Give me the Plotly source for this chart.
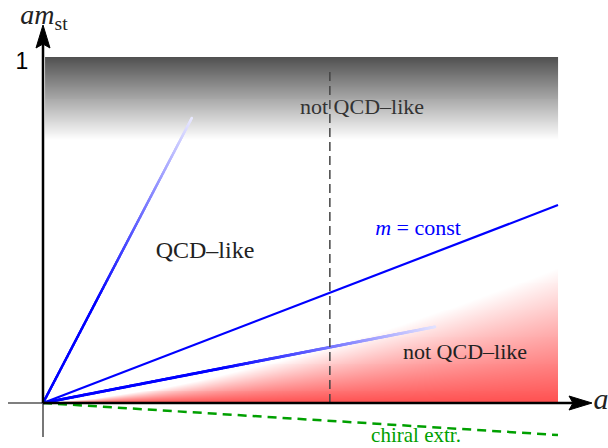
import numpy as np
import plotly.graph_objects as go

# ---------------- data (chart units: x = a, y = a*m_st) ----------------
MCONST_X = [0.0, 1.0]
MCONST_Y = [0.0, 0.572]
STEEP_X = [0.0, 0.289]
STEEP_Y = [0.0, 0.824]
LOW_X = [0.0, 0.761]
LOW_Y = [0.0, 0.220]
CHIRAL_X = [0.0, 1.0]
CHIRAL_Y = [0.0, -0.0925]
DASH_X = [0.557, 0.557]
DASH_Y = [0.0, 0.968]
RED_X = [0.0, 0.1, 0.2, 0.3, 0.4, 0.5, 0.6, 0.7, 0.8, 0.9, 1.0]
RED_TOP = [0.0, 0.012, 0.035, 0.064, 0.099, 0.138, 0.181, 0.228, 0.279, 0.333, 0.390]
GRAY_X = [0.004, 1.0]
GRAY_Y = [0.76, 1.0]

LABELS = {
    "top": "not QCD\u2013like",
    "mid": "QCD\u2013like",
    "mconst": "<i>m</i> = const",
    "bottom": "not QCD\u2013like",
    "chiral": "chiral extr.",
}

# ---------------- geometry helpers (pixel -> data) ----------------
W, H = 608, 448
OX, OY = 43, 403
SX, SY = 515, 346


def dx(px):
    return (px - OX) / SX


def dy(py):
    return (OY - py) / SY


SERIF = "Liberation Serif"

fig = go.Figure()

# gray gradient band: one heatmap column, dark at top -> white at bottom
NG = 84
g_edges = np.linspace(GRAY_Y[0], GRAY_Y[1], NG + 1)
g_z = [[(i + 0.5) / NG] for i in range(NG)]
fig.add_trace(go.Heatmap(x=GRAY_X, y=g_edges, z=g_z, zmin=0, zmax=1,
                         colorscale=[[0, "rgb(255,255,255)"], [1, "rgb(80,80,80)"]],
                         showscale=False, hoverinfo="skip"))

# red gradient wedge under the curve RED_TOP(x): red at axis -> white at curve
NXR, NYR = 515, 140
xr_edges = np.linspace(RED_X[0], RED_X[-1], NXR + 1)
yr_edges = np.linspace(0, max(RED_TOP), NYR + 1)
xc = (xr_edges[:-1] + xr_edges[1:]) / 2
yc = (yr_edges[:-1] + yr_edges[1:]) / 2
top = np.interp(xc, RED_X, RED_TOP)
XX, YY = np.meshgrid(xc, yc)
TT = np.broadcast_to(top, XX.shape)
frac = np.where(YY <= TT, YY / np.maximum(TT, 1e-9), np.nan)
red_scale = [[0.0, "rgb(255,80,80)"], [0.25, "rgb(255,124,124)"], [0.5, "rgb(255,169,169)"],
             [0.75, "rgb(255,213,213)"], [1.0, "rgb(255,255,255)"]]
fig.add_trace(go.Heatmap(x=xr_edges, y=yr_edges, z=frac.tolist(), zmin=0, zmax=1,
                         colorscale=red_scale, showscale=False, hoverinfo="skip"))


def fading_line(xa, ya, size, t_start, end_rgb, n=500):
    t = np.linspace(0, 1, n)
    s = np.clip((t - t_start) / (1 - t_start), 0, 1)
    cols = [f"rgb({round(end_rgb[0] * v)},{round(end_rgb[1] * v)},255)" for v in s]
    fig.add_trace(go.Scatter(x=xa[0] + (xa[1] - xa[0]) * t, y=ya[0] + (ya[1] - ya[0]) * t,
                             mode="markers",
                             marker=dict(color=cols, size=size, line=dict(width=0)),
                             hoverinfo="skip", showlegend=False))


fading_line(STEEP_X, STEEP_Y, 2.4, 0.35, (232, 232, 255))
fading_line(LOW_X, LOW_Y, 2.9, 0.45, (225, 225, 255))
fig.add_trace(go.Scatter(x=MCONST_X, y=MCONST_Y, mode="lines",
                         line=dict(color="rgb(0,0,255)", width=2.2),
                         hoverinfo="skip", showlegend=False))

# dashed vertical line
fig.add_trace(go.Scatter(x=DASH_X, y=DASH_Y, mode="lines",
                         line=dict(color="#444444", width=1.5, dash="9px,5px"),
                         hoverinfo="skip", showlegend=False))

# chiral extrapolation
fig.add_trace(go.Scatter(x=CHIRAL_X, y=CHIRAL_Y, mode="lines",
                         line=dict(color="#00a000", width=2.5, dash="9px,6px"),
                         hoverinfo="skip", showlegend=False))

# axes (gray stubs on the negative side, black arrows on the positive side)
fig.add_trace(go.Scatter(x=[dx(8), 0, None, 0, 0], y=[0, 0, None, 0, dy(437)], mode="lines",
                         line=dict(color="#555555", width=1.6), hoverinfo="skip", showlegend=False))
fig.add_trace(go.Scatter(x=[0, dx(574), None, 0, 0], y=[0, 0, None, 0, dy(42)], mode="lines",
                         line=dict(color="black", width=2.5), hoverinfo="skip", showlegend=False))
fig.add_trace(go.Scatter(x=[dx(592), dx(569), dx(573), dx(569), dx(592), None,
                            0, dx(36), 0, dx(50), 0],
                         y=[0, dy(396), 0, dy(410), 0, None,
                            dy(25), dy(48), dy(44), dy(48), dy(25)],
                         fill="toself", mode="lines",
                         line=dict(color="black", width=1), fillcolor="black",
                         hoverinfo="skip", showlegend=False))


def text(px, py, s, size, color="#222222", family=SERIF):
    fig.add_trace(go.Scatter(x=[dx(px)], y=[dy(py)], mode="text", text=[s],
                             textposition="middle center",
                             textfont=dict(family=family, size=size, color=color),
                             hoverinfo="skip", showlegend=False))


text(362, 108, LABELS["top"], 22, "#333333")
text(205, 252, LABELS["mid"], 24)
text(418, 229, LABELS["mconst"], 22, "#0000ff")
text(465, 353, LABELS["bottom"], 22)
text(416, 437, LABELS["chiral"], 21, "#00a000")
text(601, 401, "<i>a</i>", 30, "#222222")
text(44, 17, "<i>am</i><sub>st</sub>", 28, "#222222")
text(22, 63, "1", 23, "black", "Liberation Sans")

fig.update_layout(
    width=W, height=H,
    margin=dict(l=0, r=0, t=0, b=0),
    font=dict(family=SERIF),
    paper_bgcolor="white", plot_bgcolor="white",
    xaxis=dict(range=[dx(0), dx(W)], visible=False, fixedrange=True),
    yaxis=dict(range=[dy(H), dy(0)], visible=False, fixedrange=True),
    showlegend=False,
)

fig.write_html("out.html")
